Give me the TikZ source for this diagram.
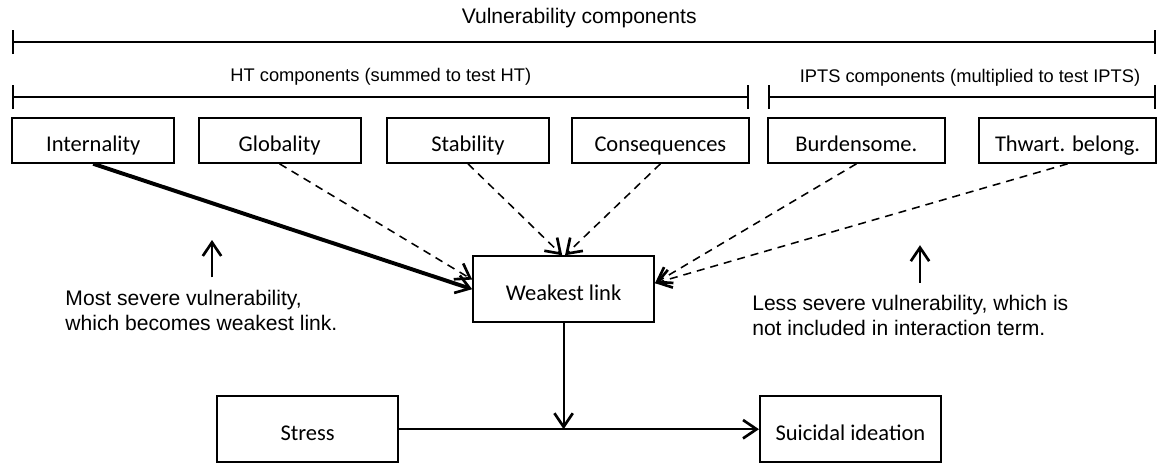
\documentclass[tikz,border=0pt]{standalone}
\usepackage{fontspec}
\setmainfont{Liberation Sans}
\newfontfamily\boxfont{Carlito}
\usetikzlibrary{arrows.meta,positioning,calc}

\begin{document}
\begin{tikzpicture}[
    compbox/.style={
        draw=black,
        line width=1.3pt,
        minimum width=4.05cm,
        minimum height=1.125cm,
        inner sep=0pt,
        text height=16pt,
        text depth=0pt,
        font=\boxfont\fontsize{16}{19}\selectfont
    },
    widebox/.style={compbox, minimum width=4.425cm},
    linkbox/.style={compbox, minimum width=4.525cm, minimum height=1.65cm},
    label/.style={font=\fontsize{15}{18}\selectfont},
    sublabel/.style={font=\fontsize{13}{16}\selectfont},
    note/.style={
        font=\fontsize{15}{17.8}\selectfont,
        align=left,
        anchor=west,
        inner sep=0pt
    },
    span/.style={
        {Bar[width=0.6cm,line width=1.3pt]}-{Bar[width=0.6cm,line width=1.3pt]},
        line width=1.3pt
    },
    arrow/.style={
        -{Straight Barb[length=3.4mm,width=4.6mm,line width=1.9pt]},
        line width=1.3pt
    },
    dasharrow/.style={arrow, line width=1.1pt, dash pattern=on 0.2cm off 0.15cm},
    boldarrow/.style={arrow, line width=2.8pt}
]
    \useasboundingbox (0,0) rectangle (29,-11.6);

    % brackets over the component groups
    \node[label] (vuln) at (14.48, -0.45) {Vulnerability components};
    \draw[span] (0.3, -1.05) -- (28.9, -1.05);
    \node[sublabel] (ht) at (9.52, -1.93) {HT components (summed to test HT)};
    \draw[span] (0.3, -2.43) -- (18.72, -2.43);
    \node[sublabel] (ipts) at (24.25, -1.95) {IPTS components (multiplied to test IPTS)};
    \draw[span] (19.2, -2.43) -- (28.9, -2.43);

    % component boxes
    \node[compbox] (int) at (2.33, -3.51) {Internality};
    \node[compbox] (glob) at (6.99, -3.51) {Globality};
    \node[compbox] (stab) at (11.7, -3.51) {Stability};
    \node[widebox] (cons) at (16.51, -3.51) {Consequences};
    \node[widebox] (burd) at (21.41, -3.51) {Burdensome.};
    \node[widebox] (thw) at (26.69, -3.51) {Thwart. belong.};

    % model
    \node[linkbox] (weak) at (14.09, -7.23) {Weakest link};
    \node[linkbox] (stress) at (7.69, -10.73) {Stress};
    \node[linkbox] (suic) at (21.26, -10.73) {Suicidal ideation};
    \coordinate (join) at (weak.south |- stress.east);

    \draw[boldarrow] (int.south) -- (weak.west);
    \draw[dasharrow] (glob.south) -- ([yshift=0.24cm]weak.west);
    \draw[dasharrow] (stab.south) -- ([xshift=-1pt]weak.north);
    \draw[dasharrow] (cons.south) -- ([xshift=1pt]weak.north);
    \draw[dasharrow] (burd.south) -- ([yshift=0.15cm]weak.east);
    \draw[dasharrow] (thw.south) -- ([yshift=0.15cm]weak.east);
    \draw[arrow] (weak) -- (join);
    \draw[arrow] (stress) -- (suic);

    % side notes
    \node[note] (most) at (1.63, -7.75) {Most severe vulnerability,\\which becomes weakest link.};
    \node[note] (less) at (18.8, -7.88) {Less severe vulnerability, which is\\not included in interaction term.};
    \coordinate (mostup) at (5.3, -6.0);
    \coordinate (lessup) at (23.0, -6.13);
    \draw[arrow, line width=1pt] ([yshift=0.3cm]most.north -| mostup) -- (mostup);
    \draw[arrow, line width=1pt] ([yshift=0.3cm]less.north -| lessup) -- (lessup);
\end{tikzpicture}
\end{document}
